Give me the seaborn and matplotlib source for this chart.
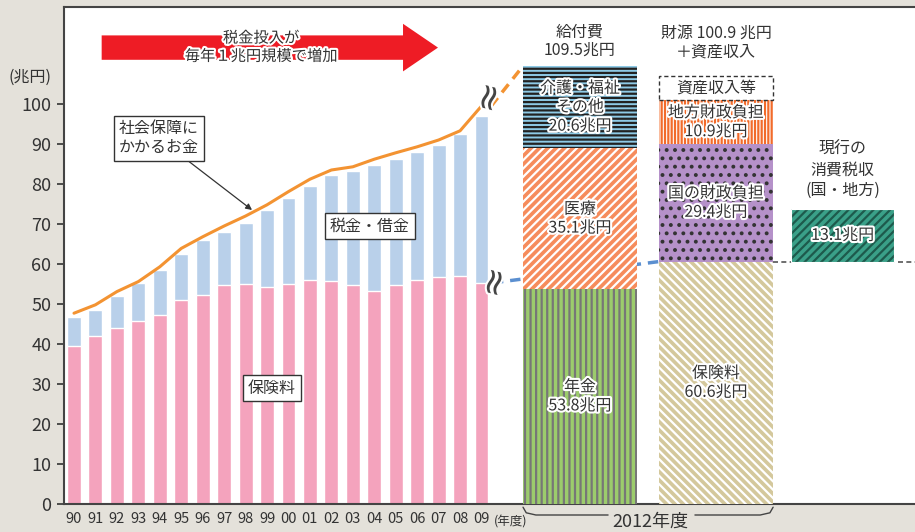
import matplotlib
matplotlib.use('Agg')
import matplotlib.pyplot as plt
import matplotlib.patheffects as pe
from matplotlib.patches import FancyArrow
import numpy as np
import pandas as pd
import seaborn as sns

# データ（単位：兆円）
years = ['90', '91', '92', '93', '94', '95', '96', '97', '98', '99',
         '00', '01', '02', '03', '04', '05', '06', '07', '08', '09']
premium = [39.5, 42.1, 44.1, 45.8, 47.2, 50.9, 52.3, 54.7, 55.1, 54.3,
           55.1, 56.0, 55.7, 54.7, 53.3, 54.7, 56.0, 56.7, 57.1, 55.3]
total = [46.8, 48.5, 51.9, 55.3, 58.4, 62.5, 65.9, 68.0, 70.3, 73.4,
         76.5, 79.6, 82.2, 83.3, 84.7, 86.3, 88.1, 89.8, 92.6, 97.0]
spending = [47.7, 49.8, 53.1, 55.6, 59.3, 63.9, 66.8, 69.5, 72.0, 74.8,
            78.1, 81.2, 83.5, 84.3, 86.2, 87.8, 89.3, 91.0, 93.3, 99.5]

benefit_names = ['年金', '医療', '介護・福祉\nその他']
benefit_values = [53.8, 35.1, 20.6]
benefit_total = 109.5

fund_names = ['保険料', '国の財政負担', '地方財政負担', '資産収入等']
fund_values = [60.6, 29.4, 10.9, 6.2]
fund_total = 100.9

tax_value = 13.1

sns.set_style('white')
plt.rcParams['font.family'] = ['Noto Sans CJK JP', 'DejaVu Sans']
plt.rcParams['hatch.linewidth'] = 1.6

bg = '#e4e1da'
pink = '#f4a3bd'
blue = '#b9d0ea'
orange = '#f39332'
dark = '#333333'
fs = 11.5

fig = plt.figure(figsize=(9.15, 5.32), dpi=100, facecolor=bg)
ax = fig.add_axes([64 / 915, 28 / 532, 851 / 915, 497 / 532])
ax.set_facecolor('white')

df = pd.DataFrame({'year': years, 'premium': premium, 'total': total})
sns.barplot(data=df, x='year', y='total', color=blue, saturation=1,
            width=0.65, ax=ax, zorder=2)
sns.barplot(data=df, x='year', y='premium', color=pink, saturation=1,
            width=0.65, ax=ax, zorder=2)

xpos = np.arange(len(years))
ax.plot(xpos, spending, color=orange, lw=2.2, zorder=3,
        solid_capstyle='round', solid_joinstyle='round')

# 2012年度の棒
bx, bw = 23.59, 5.31
fx, fw = 29.93, 5.33
tx, tw = 35.83, 4.8

stroke = [pe.withStroke(linewidth=3, foreground='white')]


def hatched(x, bottom, h, w, face, hatch, hcolor):
    ax.bar(x, h, w, bottom=bottom, color=face, lw=0, zorder=4)
    ax.bar(x, h, w, bottom=bottom, fill=False, hatch=hatch,
           edgecolor=hcolor, lw=0, zorder=4)


# 破線（裏側）
ax.plot([19.53, fx - fw / 2], [premium[-1], fund_values[0]], color='#5b8fd0',
        lw=2.5, dashes=(3, 2), zorder=1)
ax.plot([19.45, bx - bw / 2], [spending[-1], benefit_total], color=orange,
        lw=2.5, dashes=(3, 2), zorder=1)

b_styles = [('#9ccc6c', '|||', '#777777'),
            ('#f68c5c', '////', 'white'),
            ('#8ecae6', '----', '#222222')]
bottom = 0
for name, v, (face, h, hc) in zip(benefit_names, benefit_values, b_styles):
    hatched(bx, bottom, v, bw, face, h, hc)
    ax.text(bx, bottom + v / 2, f'{name}\n{v}兆円', ha='center', va='center',
            fontsize=fs, color=dark, linespacing=1.15, zorder=6,
            path_effects=stroke)
    bottom += v

f_styles = [('#d4c89c', '\\\\\\\\', 'white'),
            ('#b591c9', '..', '#333333'),
            ('white', '|||||', '#f26b2a')]
bottom = 0
for name, v, (face, h, hc) in zip(fund_names[:3], fund_values[:3], f_styles):
    hatched(fx, bottom, v, fw, face, h, hc)
    ax.text(fx, bottom + v / 2, f'{name}\n{v}兆円', ha='center', va='center',
            fontsize=fs, color=dark, linespacing=1.15, zorder=6,
            path_effects=stroke)
    bottom += v
ax.bar(fx, fund_values[3], fw, bottom=bottom, fill=False, edgecolor=dark,
       lw=1, ls=(0, (3, 2)), zorder=4)
ax.text(fx, bottom + fund_values[3] / 2, fund_names[3], ha='center',
        va='center', fontsize=fs, color=dark, zorder=6)

# 消費税収
hatched(tx, fund_values[0], tax_value, tw, '#3aa088', '////', '#1d5a4c')
ax.bar(tx, tax_value, tw, bottom=fund_values[0], fill=False,
       edgecolor='white', lw=0.8, zorder=5)
ax.text(tx, fund_values[0] + tax_value / 2, f'{tax_value}兆円', ha='center',
        va='center', fontsize=fs, color=dark, zorder=6, path_effects=stroke)
ax.plot([fx + fw / 2, 39.3], [fund_values[0]] * 2, color='#555555', lw=1.2,
        dashes=(3, 2), zorder=3)

ax.text(bx, 115.7, f'給付費\n{benefit_total}兆円', ha='center', va='center',
        fontsize=fs, color=dark, linespacing=1.15)
ax.text(fx, 115.3, f'財源 {fund_total} 兆円\n＋資産収入', ha='center',
        va='center', fontsize=fs, color=dark, linespacing=1.15)
ax.text(tx, 83.5, '現行の\n消費税収\n(国・地方)', ha='center', va='center',
        fontsize=fs, color=dark, linespacing=1.25)

# 省略記号
for x, y in [(19.4, 101.5), (19.65, 55.3)]:
    ax.text(x, y, '≈', ha='center', va='center', fontsize=26, rotation=75,
            family='DejaVu Sans', color='#444444', zorder=7,
            path_effects=[pe.withStroke(linewidth=3, foreground='white')])

# 赤い矢印
ax.add_patch(FancyArrow(1.29, 114.1, 15.68, 0, width=6.1, head_width=11.9,
                        head_length=1.63, length_includes_head=True,
                        color='#ee1c25', lw=0, zorder=3))
ax.text(8.72, 114.2, '税金投入が\n毎年１兆円規模で増加', ha='center',
        va='center', fontsize=11, color=dark, linespacing=1.1, zorder=4,
        path_effects=stroke)

box = dict(boxstyle='square,pad=0.3', fc='white', ec=dark, lw=1)
ax.annotate('社会保障に\nかかるお金', xy=(8.3, 73.5), xytext=(3.96, 91.4),
            ha='center', va='center', fontsize=fs, color=dark, bbox=box,
            linespacing=1.15, zorder=6,
            arrowprops=dict(arrowstyle='-|>', color=dark, lw=0.9,
                            mutation_scale=9, shrinkA=0, shrinkB=0))
ax.text(13.8, 69.5, '税金・借金', ha='center', va='center', fontsize=fs,
        color=dark, bbox=box, zorder=6)
ax.text(9.23, 29, '保険料', ha='center', va='center', fontsize=fs,
        color=dark, bbox=box, zorder=6)

# 軸
ax.set_xlim(-0.466, 39.21)
ax.set_ylim(0, 124.25)
ax.set_yticks(range(0, 101, 10))
ax.set_xticks(xpos, years)
ax.set_xlabel('')
ax.set_ylabel('')
ax.tick_params(axis='y', direction='out', length=5, width=1.2, color=dark,
               labelsize=13, labelcolor=dark, left=True, pad=4)
ax.tick_params(axis='x', length=0, labelsize=10.5, labelcolor=dark, pad=6)
for s in ['left', 'bottom', 'top']:
    ax.spines[s].set_color('#444444')
    ax.spines[s].set_linewidth(1.5)
ax.spines['right'].set_visible(False)

fig.text(30 / 915, 1 - 77 / 532, '(兆円)', ha='center', va='center',
         fontsize=11.5, color=dark)
fig.text(511 / 915, 1 - 522 / 532, '(年度)', ha='center', va='center',
         fontsize=9, color=dark)
fig.text(650 / 915, 1 - 522 / 532, '2012年度', ha='center', va='center',
         fontsize=13, color=dark)

# 括弧
x0, x1 = bx - bw / 2, fx + fw / 2
ax.plot([x0, x0 + 0.15, x0 + 0.6, 24.9], [-0.8, -2.2, -2.75, -2.75],
        color='#444444', lw=1, clip_on=False)
ax.plot([28.95, x1 - 0.6, x1 - 0.15, x1], [-2.75, -2.75, -2.2, -0.8],
        color='#444444', lw=1, clip_on=False)

fig.savefig('out.png', dpi=100, facecolor=bg)
